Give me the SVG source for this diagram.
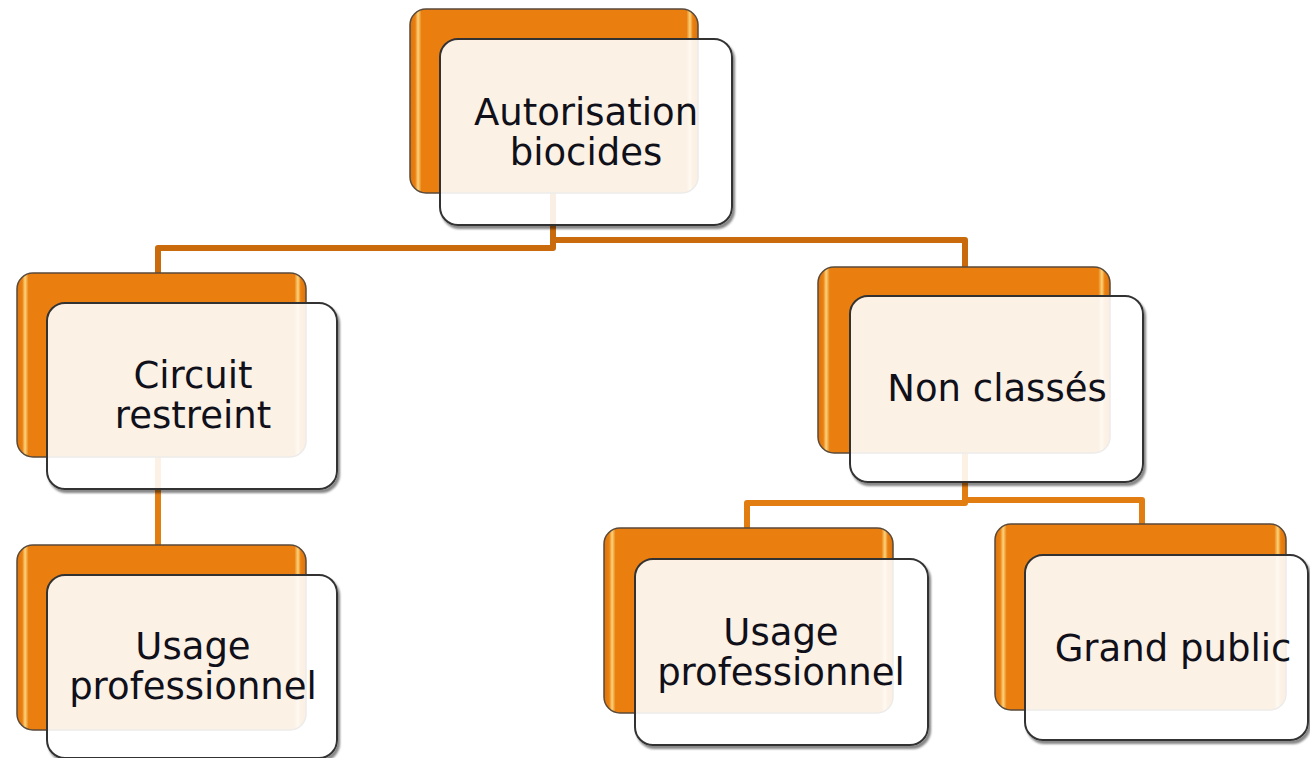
<svg xmlns="http://www.w3.org/2000/svg" width="1310" height="758" viewBox="0 0 1310 758">
<defs>
<linearGradient id="og" x1="0" y1="0" x2="1" y2="0">
<stop offset="0" stop-color="#DC740C"/>
<stop offset="0.018" stop-color="#EB8010"/>
<stop offset="0.028" stop-color="#FCD47C"/>
<stop offset="0.04" stop-color="#EA7F10"/>
<stop offset="0.96" stop-color="#EA7F10"/>
<stop offset="0.972" stop-color="#FCD47C"/>
<stop offset="0.982" stop-color="#EB8010"/>
<stop offset="1" stop-color="#DC740C"/>
</linearGradient>
<filter id="sh" x="-5%" y="-5%" width="112%" height="115%">
<feGaussianBlur in="SourceAlpha" stdDeviation="1.2" result="b"/>
<feOffset in="b" dx="2" dy="3" result="o"/>
<feComposite in="o" in2="SourceAlpha" operator="out" result="oo"/>
<feFlood flood-color="#000" flood-opacity="0.5"/>
<feComposite in2="oo" operator="in" result="s"/>
<feMerge><feMergeNode in="s"/><feMergeNode in="SourceGraphic"/></feMerge>
</filter>
</defs>
<style>
.back{fill:url(#og);stroke:#5a4a3a;stroke-width:1.5}
.front{fill:#fff;fill-opacity:0.89;stroke:#333;stroke-width:2;filter:url(#sh)}
.lbl{font-family:"DejaVu Sans",Verdana,sans-serif;font-size:37px;fill:#10101a;text-anchor:middle}
.c1{fill:none;stroke:#C96A0C;stroke-width:6;stroke-linejoin:round}
.c2{fill:none;stroke:#E27D12;stroke-width:6;stroke-linejoin:round}
</style>
<g id="connectors">
<path class="c1" d="M553,193 V248 H158 V273"/>
<path class="c1" d="M553,240 H965 V267"/>
<path class="c2" d="M158,457 V545"/>
<path class="c2" d="M965,453 V503 H747 V528"/>
<path class="c2" d="M965,500 H1142 V524"/>
</g>
<g id="n-autorisation">
<rect class="back" x="410" y="9" width="288" height="184" rx="16"/>
<rect class="front" x="440" y="39" width="292" height="186" rx="18"/>
<text class="lbl" x="586" y="125">Autorisation</text>
<text class="lbl" x="586" y="165">biocides</text>
</g>
<g id="n-circuit">
<rect class="back" x="17" y="273" width="289" height="184" rx="16"/>
<rect class="front" x="47" y="303" width="290" height="186" rx="18"/>
<text class="lbl" x="193" y="388">Circuit</text>
<text class="lbl" x="193" y="428">restreint</text>
</g>
<g id="n-nonclasses">
<rect class="back" x="818" y="267" width="292" height="186" rx="16"/>
<rect class="front" x="850" y="296" width="293" height="186" rx="18"/>
<text class="lbl" x="997" y="401">Non classés</text>
</g>
<g id="n-usage-restreint">
<rect class="back" x="17" y="545" width="289" height="185" rx="16"/>
<rect class="front" x="47" y="575" width="290" height="183" rx="18"/>
<text class="lbl" x="193" y="659">Usage</text>
<text class="lbl" x="193" y="699">professionnel</text>
</g>
<g id="n-usage-nonclasse">
<rect class="back" x="604" y="528" width="289" height="185" rx="16"/>
<rect class="front" x="635" y="559" width="293" height="186" rx="18"/>
<text class="lbl" x="781" y="645">Usage</text>
<text class="lbl" x="781" y="685">professionnel</text>
</g>
<g id="n-grandpublic">
<rect class="back" x="995" y="524" width="291" height="186" rx="16"/>
<rect class="front" x="1025" y="555" width="283" height="185" rx="18"/>
<text class="lbl" x="1173" y="661">Grand public</text>
</g>
</svg>
